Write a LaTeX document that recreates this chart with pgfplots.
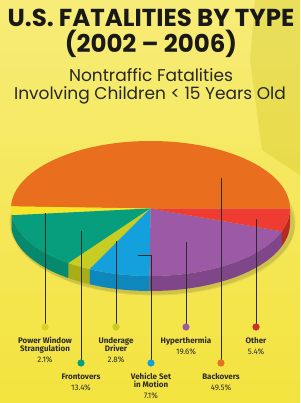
\documentclass[border=0pt]{standalone}
\usepackage{pgfplots}
\pgfplotsset{compat=1.18}
\usepackage{pgfplotstable}
\usepackage{fontspec}
\setmainfont{Fira Sans}
\newfontfamily\titlefont[Ligatures=TeX]{Poppins}
\newfontfamily\labfont{Fira Sans}

\definecolor{c0}{HTML}{E96E1E}\definecolor{d0}{HTML}{C85A14}
\definecolor{c1}{HTML}{F6E62A}\definecolor{d1}{HTML}{D6C31C}
\definecolor{c2}{HTML}{079E7E}\definecolor{d2}{HTML}{06896C}
\definecolor{c3}{HTML}{C7CD22}\definecolor{d3}{HTML}{A8AD18}
\definecolor{c4}{HTML}{13A0DC}\definecolor{d4}{HTML}{0E87BD}
\definecolor{c5}{HTML}{9C5AA6}\definecolor{d5}{HTML}{7F478A}
\definecolor{c6}{HTML}{EE3C32}\definecolor{d6}{HTML}{B72A24}
\definecolor{txt}{HTML}{2B2B2B}
\definecolor{bgtop}{HTML}{F7EC78}
\definecolor{bgbot}{HTML}{F3E33E}

% Nontraffic fatalities involving children < 15, 2002-2006 (percent)
\pgfplotstableread{
label value
Backovers 49.5
PowerWindow 2.1
Frontovers 13.4
Underage 2.8
Vehicle 7.1
Hyperthermia 19.6
Other 5.4
}\piedata

% cumulative angles from the table
\def\cum{0}
\pgfplotsforeachungrouped \i in {0,...,6}{%
  \pgfplotstablegetelem{\i}{value}\of\piedata
  \pgfmathsetmacro\nxt{\cum+3.6*\pgfplotsretval}%
  \expandafter\let\csname sA\i\endcsname\cum
  \expandafter\let\csname eA\i\endcsname\nxt
  \let\cum\nxt
}
\expandafter\def\csname eA6\endcsname{360}
\pgfplotsforeachungrouped \i in {1,...,6}{%
  \pgfmathsetmacro\tp{max(\csname sA\i\endcsname,180)}%
  \pgfmathsetmacro\tq{min(\csname eA\i\endcsname,360)}%
  \expandafter\let\csname pA\i\endcsname\tp
  \expandafter\let\csname qA\i\endcsname\tq
}

\def\cx{150.5}\def\cy{208.5}\def\ra{139.5}\def\rb{67.5}\def\dep{15}

\begin{document}
\begin{tikzpicture}
\begin{axis}[
  x=1pt, y=1pt, y dir=reverse,
  xmin=0, xmax=300, ymin=0, ymax=403,
  hide axis, clip=false, scale only axis,
]
% background
\fill[top color=bgtop, bottom color=bgbot] (axis cs:0,0) rectangle (axis cs:300,403);
\fill[olive!60!yellow, opacity=0.22] (axis cs:255,0) -- (axis cs:300,0) -- (axis cs:300,175) -- (axis cs:262,150) -- (axis cs:250,60) -- cycle;
% shadow
\fill[black!60!olive, opacity=0.12] (axis cs:\cx+2,\cy+14) ellipse [x radius=143pt, y radius=72pt];
\fill[black!60!olive, opacity=0.12] (axis cs:\cx+3,\cy+17) ellipse [x radius=141pt, y radius=70pt];

% side walls
\pgfplotsinvokeforeach{1,...,6}{
  \fill[d#1] (axis cs:{\cx+\ra*cos(\csname pA#1\endcsname)},{\cy-\rb*sin(\csname pA#1\endcsname)})
    arc[start angle=\csname pA#1\endcsname, end angle=\csname qA#1\endcsname, x radius=\ra pt, y radius=\rb pt]
    -- ++(0pt,-\dep pt)
    arc[start angle=\csname qA#1\endcsname, end angle=\csname pA#1\endcsname, x radius=\ra pt, y radius=\rb pt]
    -- cycle;
}
% top faces
\pgfplotsinvokeforeach{0,...,6}{
  \fill[c#1] (axis cs:\cx,\cy) -- (axis cs:{\cx+\ra*cos(\csname sA#1\endcsname)},{\cy-\rb*sin(\csname sA#1\endcsname)})
    arc[start angle=\csname sA#1\endcsname, end angle=\csname eA#1\endcsname, x radius=\ra pt, y radius=\rb pt]
    -- cycle;
}

% leader lines
\begin{scope}[line width=0.6pt, txt]
\draw (axis cs:45,213) -- (axis cs:45,324);
\draw (axis cs:81,231) -- (axis cs:81,360);
\draw (axis cs:116,241) -- (axis cs:116,324);
\draw (axis cs:138,255) -- (axis cs:151,255) -- (axis cs:151,360);
\draw (axis cs:186,242) -- (axis cs:186,324);
\draw (axis cs:221,178) -- (axis cs:221,360);
\draw (axis cs:256,219) -- (axis cs:256,324);
\end{scope}
% dots
\fill[c1!90!black] (axis cs:45,327) circle[radius=3.6pt];
\fill[c2] (axis cs:81,363) circle[radius=3.6pt];
\fill[c3] (axis cs:116,327) circle[radius=3.6pt];
\fill[c4] (axis cs:151,363) circle[radius=3.6pt];
\fill[c5] (axis cs:186,327) circle[radius=3.6pt];
\fill[c0] (axis cs:221,363) circle[radius=3.6pt];
\fill[c6!85!black] (axis cs:256,327) circle[radius=3.6pt];

% titles
\node[anchor=base, font=\titlefont\bfseries\fontsize{24.5}{24.5}\selectfont, text=black!90] at (axis cs:151,27) {U.S. FATALITIES BY TYPE};
\node[anchor=base, font=\titlefont\bfseries\fontsize{24.5}{24.5}\selectfont, text=black!90] at (axis cs:151,53) {(2002 – 2006)};
\node[anchor=base, font=\titlefont\fontsize{17}{17}\selectfont, text=black!85] at (axis cs:151,82) {Nontraffic Fatalities};
\node[anchor=base, font=\titlefont\fontsize{17}{17}\selectfont, text=black!85] at (axis cs:150,100) {Involving Children < 15 Years Old};

% labels
\begin{scope}[every node/.style={anchor=base, text=txt, inner sep=0pt}]
\node[font=\labfont\bfseries\fontsize{8}{8}\selectfont] at (axis cs:45,343) {Power Window};
\node[font=\labfont\bfseries\fontsize{8}{8}\selectfont] at (axis cs:45,351.5) {Strangulation};
\node[font=\labfont\fontsize{8}{8}\selectfont] at (axis cs:45,362) {2.1\%};
\node[font=\labfont\bfseries\fontsize{8}{8}\selectfont] at (axis cs:81,379) {Frontovers};
\node[font=\labfont\fontsize{8}{8}\selectfont] at (axis cs:81,390) {13.4\%};
\node[font=\labfont\bfseries\fontsize{8}{8}\selectfont] at (axis cs:116,343) {Underage};
\node[font=\labfont\bfseries\fontsize{8}{8}\selectfont] at (axis cs:116,351.5) {Driver};
\node[font=\labfont\fontsize{8}{8}\selectfont] at (axis cs:116,362) {2.8\%};
\node[font=\labfont\bfseries\fontsize{8}{8}\selectfont] at (axis cs:151,379) {Vehicle Set};
\node[font=\labfont\bfseries\fontsize{8}{8}\selectfont] at (axis cs:151,387.5) {in Motion};
\node[font=\labfont\fontsize{8}{8}\selectfont] at (axis cs:151,398.5) {7.1\%};
\node[font=\labfont\bfseries\fontsize{8}{8}\selectfont] at (axis cs:186,343) {Hyperthermia};
\node[font=\labfont\fontsize{8}{8}\selectfont] at (axis cs:186,354) {19.6\%};
\node[font=\labfont\bfseries\fontsize{8}{8}\selectfont] at (axis cs:221,379) {Backovers};
\node[font=\labfont\fontsize{8}{8}\selectfont] at (axis cs:221,390) {49.5\%};
\node[font=\labfont\bfseries\fontsize{8}{8}\selectfont] at (axis cs:256,343) {Other};
\node[font=\labfont\fontsize{8}{8}\selectfont] at (axis cs:256,354) {5.4\%};
\end{scope}
\end{axis}
\end{tikzpicture}
\end{document}
